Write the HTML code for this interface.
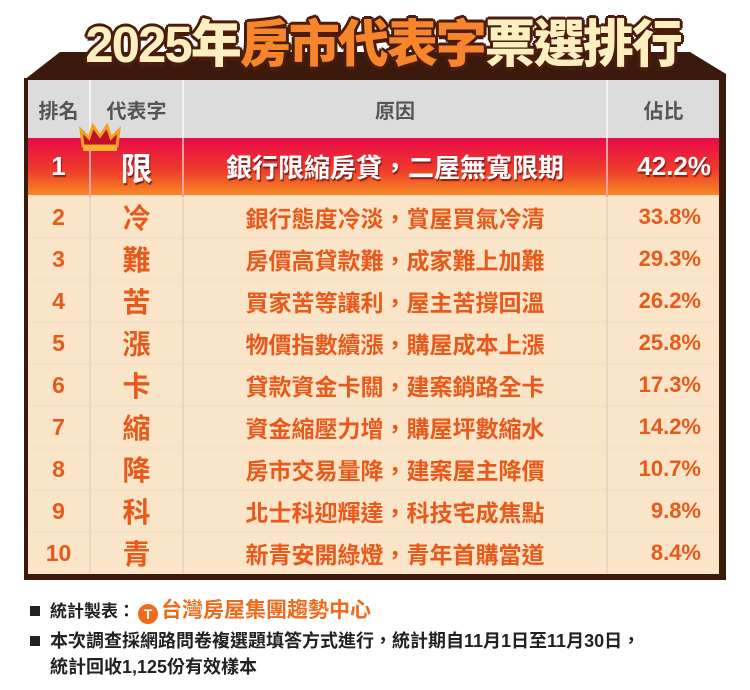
<!DOCTYPE html>
<html><head><meta charset="utf-8"><style>
*{margin:0;padding:0;box-sizing:border-box}
body{width:750px;height:690px;background:#fff;position:relative;overflow:hidden;font-family:"Liberation Sans","Noto Sans CJK TC",sans-serif}
.title{position:absolute;left:8px;width:750px;top:10px;text-align:center;font-size:51px;line-height:70px;font-weight:900;letter-spacing:-2px;color:#fdf0c0;
 text-shadow:-2px -2px 0 #4a1c0c,2px -2px 0 #4a1c0c,-2px 2px 0 #4a1c0c,2px 2px 0 #4a1c0c,0 4px 0 #4a1c0c,3px 0 0 #4a1c0c,-3px 0 0 #4a1c0c,0 -3px 0 #4a1c0c;z-index:3}
.title .o{color:#f7852c}
.frame{position:absolute;left:24px;top:78px;width:702px;height:502px;background:#3b1a0d;}
table{position:absolute;left:28px;top:80px;width:691px;border-collapse:collapse;z-index:2}
td{text-align:center;border-left:2px solid #e8d6c4;border-top:2px solid #f3e1cc;font-weight:bold;color:#e75a1b;background:#fbe5c8;height:41.5px;font-size:23px}
td:first-child{border-left:none}
tr.h td{background:#dcdcdc;color:#555;font-size:20px;height:58px;border-top:none;border-left:2px solid #f2f2f2}
tr.h td:first-child{border-left:none}
tr.r1 td{background:linear-gradient(#e80a4a,#ee3a2a 55%,#f58a24);color:#fff;height:58px;font-size:26px;border-top:none;text-shadow:1px 2px 1px #8a1a1a;border-left:2px solid #f3a0a0}
tr.r1 td:first-child{border-left:none}
td.c{font-size:28px}
td.r{font-size:23px}
td.p{font-size:22px;text-align:right;padding-right:18px}
.notes{position:absolute;left:30px;font-size:17px;font-weight:bold;color:#222}
.sq{display:inline-block;width:10px;height:10px;background:#222;margin-right:10px;vertical-align:1px}
</style></head><body>
<svg style="position:absolute;left:0;top:0" width="750" height="100"><polygon points="24,80 60,52 690,52 726,74 726,80" fill="#3b1a0d"/></svg>
<div class="title">2025年<span class="o">房市代表字</span>票選排行</div>
<div class="frame"></div>
<table>
<colgroup><col style="width:62px"><col style="width:93px"><col style="width:424px"><col style="width:112px"></colgroup>
<tr class="h"><td>排名</td><td>代表字</td><td>原因</td><td>佔比</td></tr>
<tr class="r1"><td>1</td><td style="font-size:32px;position:relative"><svg style="position:absolute;left:-12px;top:-16px" width="42" height="30" viewBox="0 0 42 30"><path d="M4 24 L2 8 L10 16 L14 4 L21 14 L28 4 L32 16 L40 8 L38 24 Z" fill="#c0102a" stroke="#f5a020" stroke-width="3"/><rect x="4" y="23" width="34" height="6" fill="#f5b030"/></svg>限</td><td>銀行限縮房貸，二屋無寬限期</td><td class="p" style="font-size:26px;padding-right:8px">42.2%</td></tr>
<tr><td>2</td><td class="c">冷</td><td class="r">銀行態度冷淡，賞屋買氣冷清</td><td class="p">33.8%</td></tr>
<tr><td>3</td><td class="c">難</td><td class="r">房價高貸款難，成家難上加難</td><td class="p">29.3%</td></tr>
<tr><td>4</td><td class="c">苦</td><td class="r">買家苦等讓利，屋主苦撐回溫</td><td class="p">26.2%</td></tr>
<tr><td>5</td><td class="c">漲</td><td class="r">物價指數續漲，購屋成本上漲</td><td class="p">25.8%</td></tr>
<tr><td>6</td><td class="c">卡</td><td class="r">貸款資金卡關，建案銷路全卡</td><td class="p">17.3%</td></tr>
<tr><td>7</td><td class="c">縮</td><td class="r">資金縮壓力增，購屋坪數縮水</td><td class="p">14.2%</td></tr>
<tr><td>8</td><td class="c">降</td><td class="r">房市交易量降，建案屋主降價</td><td class="p">10.7%</td></tr>
<tr><td>9</td><td class="c">科</td><td class="r">北士科迎輝達，科技宅成焦點</td><td class="p">9.8%</td></tr>
<tr><td>10</td><td class="c">青</td><td class="r">新青安開綠燈，青年首購當道</td><td class="p">8.4%</td></tr>
</table>
<div class="notes" style="top:594px"><span class="sq"></span>統計製表：<span style="display:inline-block;width:20px;height:20px;border-radius:50%;background:#f06a1a;color:#fff;font-size:14px;text-align:center;line-height:20px;vertical-align:-2px;margin:0 3px">T</span><span style="color:#f06a1a;font-size:21px">台灣房屋集團趨勢中心</span></div>
<div class="notes" style="top:628px;line-height:26px;font-size:18px"><span class="sq"></span>本次調查採網路問卷複選題填答方式進行，統計期自11月1日至11月30日，<br><span style="margin-left:20px">統計回收1,125份有效樣本</span></div>
</body></html>
